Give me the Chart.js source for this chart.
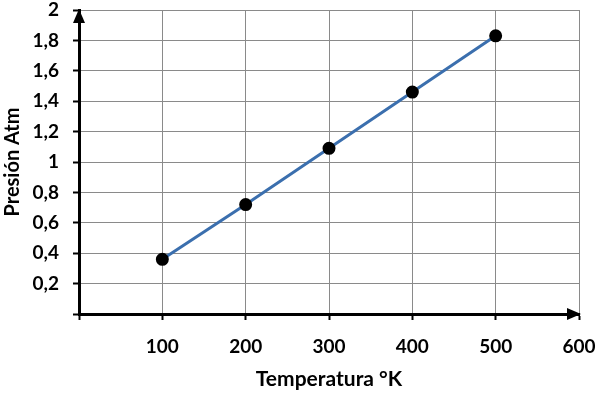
<!DOCTYPE html>
<html lang="es">
<head>
  <meta charset="UTF-8">
  <title>Presión vs Temperatura</title>
  <script src="https://cdn.jsdelivr.net/npm/chart.js"></script>
  <style>
    html, body { margin: 0; padding: 0; background: #fff; }
    #wrap { width: 600px; height: 393px; }
  </style>
</head>
<body>
  <div id="wrap"><canvas id="chart" width="600" height="393"></canvas></div>
  <script>
    // datos
    const temperaturas = [100, 200, 300, 400, 500];
    const presiones = [0.36, 0.72, 1.09, 1.46, 1.83];

    const fuente = { family: 'Lato, "Open Sans", sans-serif', weight: 'bold' };

    // flechas al final de los ejes
    const flechas = {
      id: 'flechas',
      afterDraw(chart) {
        const { ctx, chartArea: a } = chart;
        ctx.save();
        ctx.fillStyle = '#000';
        // eje y, hacia arriba
        ctx.beginPath();
        ctx.moveTo(a.left, a.top - 1);
        ctx.lineTo(a.left - 6, a.top + 13);
        ctx.lineTo(a.left + 6, a.top + 13);
        ctx.closePath();
        ctx.fill();
        // eje x, hacia la derecha
        ctx.beginPath();
        ctx.moveTo(a.right + 2, a.bottom);
        ctx.lineTo(a.right - 12, a.bottom - 6);
        ctx.lineTo(a.right - 12, a.bottom + 6);
        ctx.closePath();
        ctx.fill();
        ctx.restore();
      }
    };

    new Chart(document.getElementById('chart'), {
      type: 'line',
      data: {
        datasets: [{
          data: temperaturas.map((t, i) => ({ x: t, y: presiones[i] })),
          borderColor: '#3b6fae',
          borderWidth: 3,
          pointRadius: 5,
          pointHoverRadius: 5,
          pointBackgroundColor: '#000',
          pointBorderColor: '#000',
          tension: 0
        }]
      },
      options: {
        responsive: false,
        animation: false,
        layout: { autoPadding: false, padding: 0 },
        plugins: { legend: { display: false }, tooltip: { enabled: false } },
        scales: {
          x: {
            type: 'linear',
            min: 0, max: 600,
            // tamaño fijo del eje y márgenes del área
            afterFit(s) { s.height = 79; s.paddingLeft = 0; s.paddingRight = 21; },
            ticks: {
              stepSize: 100,
              padding: 15,
              color: '#000',
              font: { ...fuente, size: 19 },
              callback: v => v === 0 ? '' : v
            },
            grid: { color: '#8a8a8a', lineWidth: 1, tickLength: 6, tickColor: '#000', tickWidth: 2 },
            border: { color: '#000', width: 3 },
            title: {
              display: true,
              text: 'Temperatura °K',
              color: '#000',
              font: { ...fuente, size: 21 },
              padding: { top: 10, bottom: 1 }
            }
          },
          y: {
            min: 0, max: 2,
            afterFit(s) { s.width = 79; s.paddingTop = 10; s.paddingBottom = 0; },
            ticks: {
              stepSize: 0.2,
              padding: 14,
              color: '#000',
              font: { ...fuente, size: 19 },
              callback: v => v === 0 ? '' : String(Math.round(v * 10) / 10).replace('.', ',')
            },
            grid: { color: '#8a8a8a', lineWidth: 1, tickLength: 6, tickColor: '#000', tickWidth: 2 },
            border: { color: '#000', width: 3 },
            title: {
              display: true,
              text: 'Presión Atm',
              color: '#000',
              font: { ...fuente, size: 20 },
              padding: { top: 1, bottom: 2 }
            }
          }
        }
      },
      plugins: [flechas]
    });
  </script>
</body>
</html>
